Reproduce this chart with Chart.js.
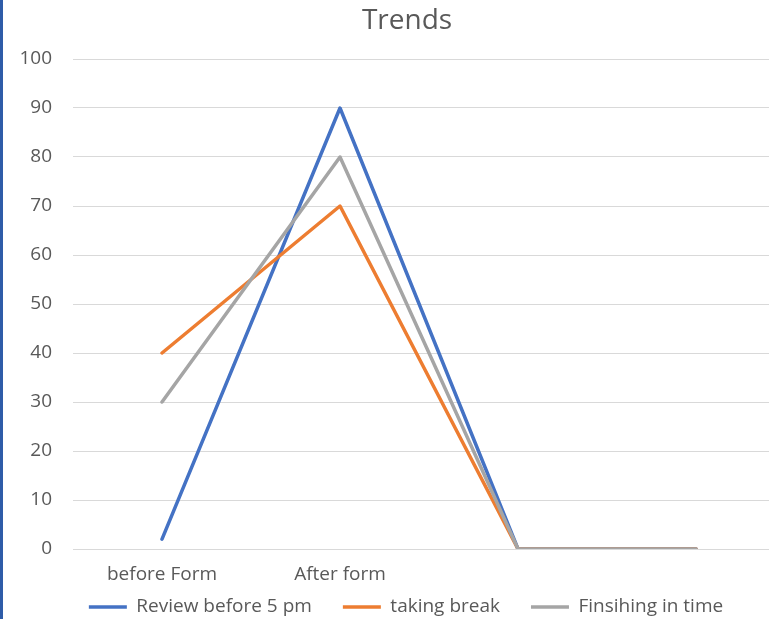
<!DOCTYPE html>
<html>
<head>
<meta charset="utf-8">
<title>Trends</title>
<script src="https://cdn.jsdelivr.net/npm/chart.js"></script>
<style>
    html, body { margin: 0; padding: 0; background: #fff; overflow: hidden; width: 769px; height: 619px; }
    .chart-container { position: absolute; left: 0; top: 0; width: 815px; height: 653px; }
    .edge { position: absolute; left: 0; top: 0; width: 3px; height: 619px; background: #2E5CA8; }
</style>
</head>
<body>
<div class="chart-container">
    <canvas id="chart"></canvas>
</div>
<div class="edge"></div>
<script>
const categories = ['before Form', 'After form', '', ''];
const review = [2, 90, 0, 0];
const takingBreak = [40, 70, 0, 0];
const finishing = [30, 80, 0, 0];
const yTicks = [0, 10, 20, 30, 40, 50, 60, 70, 80, 90, 100];

const textColor = '#595959';
const fontFamily = '"Open Sans", "Noto Sans", sans-serif';

// move title / legend after layout so they sit where the original has them
const nudgeBoxes = {
    id: 'nudgeBoxes',
    afterLayout(chart, args, opts) {
        const t = chart.titleBlock;
        t.left += opts.titleDx;
        t.right += opts.titleDx;
        const lg = chart.legend;
        const itemH = lg.legendHitBoxes.length ? lg.legendHitBoxes[0].height : 0;
        const dy = opts.legendY - itemH / 2 - lg.options.labels.padding - lg.top;
        lg.top += dy;
        lg.bottom += dy;
        lg.left += opts.legendDx;
        lg.right += opts.legendDx;
    }
};

function series(label, data, color, order) {
    return {
        label: label,
        data: data,
        borderColor: color,
        backgroundColor: color,
        borderWidth: 3.5,
        pointBorderColor: color,
        pointBackgroundColor: color,
        pointBorderWidth: 3.5,
        order: order
    };
}

function trendsChart(ctx) {
    return new Chart(ctx, {
        type: 'line',
        data: {
            labels: categories,
            datasets: [
                series('Review before 5 pm', review, '#4472C4', 3),
                series('taking break', takingBreak, '#ED7D31', 2),
                series('Finsihing in time', finishing, '#A5A5A5', 1)
            ]
        },
        options: {
            responsive: true,
            maintainAspectRatio: false,
            animation: false,
            layout: { padding: { left: 0, right: 30, top: 0, bottom: 0 } },
            elements: {
                line: { tension: 0, borderJoinStyle: 'round', borderCapStyle: 'round' },
                point: { radius: 0, hoverRadius: 0 }
            },
            scales: {
                x: {
                    offset: true,
                    grid: { display: false },
                    border: { display: false },
                    ticks: { color: textColor, font: { family: fontFamily, size: 19 }, padding: 6, maxRotation: 0 },
                    afterFit: scale => { scale.height = 44; }
                },
                y: {
                    min: 0,
                    max: 100,
                    afterBuildTicks: scale => { scale.ticks = yTicks.map(v => ({ value: v })); },
                    grid: { color: '#D9D9D9', lineWidth: 1, drawTicks: false },
                    border: { display: false },
                    ticks: { color: textColor, font: { family: fontFamily, size: 19 }, padding: 21 },
                    afterFit: scale => { scale.width = 73; }
                }
            },
            plugins: {
                title: {
                    display: true,
                    text: 'Trends',
                    color: textColor,
                    font: { family: fontFamily, size: 28, weight: 'normal' },
                    padding: { top: 4, bottom: 21.4 }
                },
                legend: {
                    position: 'bottom',
                    labels: {
                        color: textColor,
                        font: { family: fontFamily, size: 19 },
                        usePointStyle: true,
                        pointStyle: 'line',
                        pointStyleWidth: 38,
                        padding: 31,
                        sort: (a, b) => a.datasetIndex - b.datasetIndex
                    }
                },
                nudgeBoxes: { titleDx: 14.5, legendDx: 13.5, legendY: 607 },
                tooltip: { enabled: false }
            }
        },
        plugins: [nudgeBoxes]
    });
}

trendsChart(document.getElementById('chart').getContext('2d'));
</script>
</body>
</html>
